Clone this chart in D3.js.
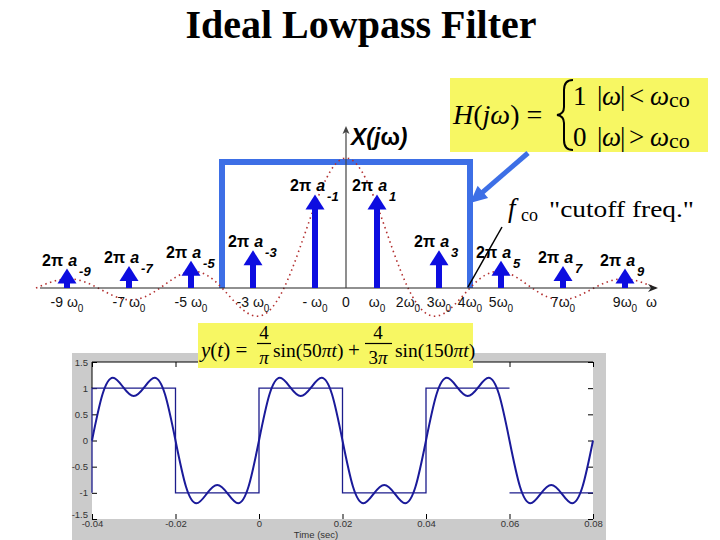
<!DOCTYPE html>
<html><head><meta charset="utf-8">
<script src="https://cdn.jsdelivr.net/npm/d3@7/dist/d3.min.js"></script>
<style>body{margin:0;background:#fff}svg{display:block}</style>
</head><body>
<svg id="c" width="720" height="540"></svg>
<script>
// ---------- data ----------
const title = "Ideal Lowpass Filter";
// spectrum (units of ω0)
const harmonics = [-9,-7,-5,-3,-1,1,3,5,7,9];
const arrowMag  = [0.15,0.17,0.21,0.29,0.72,0.72,0.29,0.21,0.17,0.15];
const harmonicSub = ["-9","-7","-5","-3","-1","1","3","5","7","9"];
const envW = [-10,-9.5,-9,-8.5,-8,-7.5,-7,-6.5,-6,-5.5,-5,-4.5,-4,-3.5,-3,-2.5,-2,-1.5,-1,-0.5,0,
              0.5,1,1.5,2,2.5,3,3.5,4,4.5,5,5.5,6,6.5,7,7.5,8,8.5,9,9.5,10];
const envV = [0,0.047,0.071,0.053,0,-0.06,-0.091,-0.069,0,0.082,0.127,0.1,0,-0.129,-0.212,-0.18,0,0.3,0.637,0.9,1,
              0.9,0.637,0.3,0,-0.18,-0.212,-0.129,0,0.1,0.127,0.082,0,-0.069,-0.091,-0.06,0,0.053,0.071,0.047,0];
const freqTickPos  = [-9,-7,-5,-3,-1,0,1,2,3,4,5,7,9,9.85];
const freqTickMain = ["-9 ω","-7 ω","-5 ω","-3 ω","- ω","0","ω","2ω","3ω","4ω","5ω","7ω","9ω","ω"];
const freqTickSub  = ["0","0","0","0","0","","0","0","0","0","0","0","0",""];
const filterEdges = [-4, 4];
const filterGain = 0.97;
// time plot
const timeStart = -0.04, timeStep = 0.0025;
const yVals = [0,0.879,1.2,1.014,0.849,1.014,1.2,0.879,0,-0.879,-1.2,-1.014,-0.849,-1.014,-1.2,-0.879,
               0,0.879,1.2,1.014,0.849,1.014,1.2,0.879,0,-0.879,-1.2,-1.014,-0.849,-1.014,-1.2,-0.879,
               0,0.879,1.2,1.014,0.849,1.014,1.2,0.879,0,-0.879,-1.2,-1.014,-0.849,-1.014,-1.2,-0.879,0];
const sqT = [-0.04,-0.04,-0.02,-0.02,0,0,0.02,0.02,0.04,0.04,0.06,null,0.06,0.08];
const sqV = [-1,1,1,-1,-1,1,1,-1,-1,1,1,null,-1,-1];
const xTicks = [-0.04,-0.02,0,0.02,0.04,0.06,0.08];
const xTickLabels = ["-0.04","-0.02","0","0.02","0.04","0.06","0.08"];
const yTicks = [-1.5,-1,-0.5,0,0.5,1,1.5];
const yTickLabels = ["-1.5","-1","-0.5","0","0.5","1","1.5"];
const xAxisTitle = "Time (sec)";

// ---------- drawing ----------
const svg = d3.select("#c");
const SANS = "'Liberation Sans', Arial, sans-serif";
const SERIF = "'Liberation Serif', 'Times New Roman', serif";
const BLUE = "#0d0de0", FBLUE = "#3d6fe6", YEL = "#f7f763";
svg.append("rect").attr("width",720).attr("height",540).attr("fill","#fff");

svg.append("text").attr("x",361).attr("y",38).attr("text-anchor","middle")
  .style("font-family",SERIF).style("font-weight","bold").style("font-size","40px").text(title);

const sx = d3.scaleLinear().domain([-10,10]).range([36,656]);
const sy = d3.scaleLinear().domain([0,1]).range([288,158]);

function arrow(g, x1,y1,x2,y2,w,hl,hw,color){
  const dx=x2-x1, dy=y2-y1, L=Math.hypot(dx,dy), ux=dx/L, uy=dy/L;
  const bx=x2-ux*hl, by=y2-uy*hl;
  g.append("line").attr("x1",x1).attr("y1",y1).attr("x2",bx+ux).attr("y2",by+uy)
    .attr("stroke",color).attr("stroke-width",w);
  g.append("path").attr("d",`M${x2},${y2}L${bx-uy*hw},${by+ux*hw}L${bx+uy*hw},${by-ux*hw}Z`).attr("fill",color);
}

// H(jw) box
const hb = svg.append("g");
hb.append("rect").attr("x",450).attr("y",78).attr("width",258).attr("height",74).attr("fill",YEL);
const ht = hb.append("text").attr("x",453).attr("y",124).style("font-family",SERIF).style("font-size","28px");
ht.append("tspan").style("font-style","italic").text("H");
ht.append("tspan").text("(");
ht.append("tspan").style("font-style","italic").text("jω");
ht.append("tspan").text(") =");
hb.append("path").attr("d","M573,80 Q564,80 564,90 L564,107 Q564,114 557,115 Q564,116 564,123 L564,140 Q564,150 573,150")
  .attr("fill","none").attr("stroke","#000").attr("stroke-width",2);
[[105,"1","<"],[146,"0",">"]].forEach(([yy,v,op])=>{
  const st = s=>hb.append("text").attr("y",yy).style("font-family",SERIF).style("font-size","27px").text(s);
  st(v).attr("x",573);
  st("|").attr("x",597);
  st("ω").attr("x",602).style("font-style","italic");
  st("|").attr("x",620);
  st(op).attr("x",629);
  st("ω").attr("x",650).style("font-style","italic");
  hb.append("text").attr("x",669).attr("y",yy+2).style("font-family",SERIF).style("font-size","22px").text("co");
});

// annotation arrow from box to filter edge
arrow(svg, 528,153, 470,203, 5, 17, 8, FBLUE);

// filter rectangle
svg.append("path")
  .attr("d",`M${sx(filterEdges[0])},${sy(0)}V${sy(filterGain)}H${sx(filterEdges[1])}V${sy(0)}`)
  .attr("fill","none").attr("stroke",FBLUE).attr("stroke-width",6);

// sinc envelope
svg.append("path").datum(envW.map((w,i)=>[w,envV[i]]))
  .attr("d", d3.line().x(d=>sx(d[0])).y(d=>sy(d[1])).curve(d3.curveNatural))
  .attr("fill","none").attr("stroke","#b33030").attr("stroke-width",1.6).attr("stroke-dasharray","1.5,3.5");

// axes
svg.append("line").attr("x1",40).attr("x2",652).attr("y1",sy(0)).attr("y2",sy(0)).attr("stroke","#222").attr("stroke-width",1.2);
svg.append("path").attr("d",`M658,${sy(0)}L648,${sy(0)-4}L651,${sy(0)}L648,${sy(0)+4}Z`).attr("fill","#222");
svg.append("line").attr("x1",sx(0)).attr("x2",sx(0)).attr("y1",sy(0)).attr("y2",131).attr("stroke","#444").attr("stroke-width",1.2);
svg.append("path").attr("d",`M${sx(0)},126L${sx(0)-3.5},134L${sx(0)},132L${sx(0)+3.5},134Z`).attr("fill","#444");

// X(jw) label
const xl = svg.append("text").attr("x",351).attr("y",145).style("font-family",SANS)
  .style("font-weight","bold").style("font-size","23px");
xl.append("tspan").style("font-style","italic").text("X(j");
xl.append("tspan").text("ω");
xl.append("tspan").style("font-style","italic").text(")");

// harmonic arrows
harmonics.forEach((h,i)=>{
  const x = sx(h), tip = sy(arrowMag[i]), hh = 15, hw = 9.5;
  svg.append("rect").attr("x",x-3).attr("y",tip+hh-1).attr("width",6).attr("height",sy(0)-(tip+hh-1)).attr("fill",BLUE);
  svg.append("path").attr("d",`M${x},${tip}L${x-hw},${tip+hh}L${x+hw},${tip+hh}Z`).attr("fill",BLUE);
  const t = svg.append("text").attr("x",x-25).attr("y",tip-3).style("font-family",SANS)
    .style("font-weight","bold").style("font-size","16px");
  t.append("tspan").text("2π");
  t.append("tspan").attr("dx",5).style("font-style","italic").text("a");
  t.append("tspan").attr("dx",2).attr("dy",10).style("font-style","italic").style("font-size","13px").text(harmonicSub[i]);
});

// frequency tick labels
freqTickPos.forEach((p,i)=>{
  const t = svg.append("text").attr("x",sx(p)).attr("y",307).attr("text-anchor","middle")
    .style("font-family",SANS).style("font-size","14px").attr("fill","#111");
  t.append("tspan").text(freqTickMain[i]);
  if (freqTickSub[i]) t.append("tspan").attr("dy",5).style("font-size","10px").text(freqTickSub[i]);
});

// cutoff annotation
svg.append("line").attr("x1",468).attr("y1",287).attr("x2",502).attr("y2",227).attr("stroke","#000").attr("stroke-width",1.5);
svg.append("text").attr("x",508).attr("y",217).style("font-family",SERIF).style("font-style","italic").style("font-size","27px").text("f");
svg.append("text").attr("x",521).attr("y",221).style("font-family",SERIF).style("font-size","18px").text("co");
svg.append("text").attr("x",549).attr("y",217).attr("textLength",145).attr("lengthAdjust","spacingAndGlyphs")
  .style("font-family",SERIF).style("font-size","24px").text("\"cutoff freq.\"");

// ---------- time plot ----------
svg.append("rect").attr("x",72).attr("y",353).attr("width",534).attr("height",187).attr("fill","#cbcbcb");
const tx = d3.scaleLinear().domain([-0.04,0.08]).range([92,593]);
const ty = d3.scaleLinear().domain([-1.5,1.5]).range([519,362]);
svg.append("rect").attr("x",tx(-0.04)).attr("y",ty(1.5)).attr("width",tx(0.08)-tx(-0.04)).attr("height",ty(-1.5)-ty(1.5)).attr("fill","#fff");

function styleAxis(g){
  g.select(".domain").remove();
  g.selectAll("line").attr("stroke","#000");
  g.selectAll("text").style("font-family",SANS).style("font-size","9.5px").attr("fill","#333");
}
svg.append("g").attr("transform",`translate(0,${ty(-1.5)})`)
  .call(d3.axisBottom(tx).tickValues(xTicks).tickFormat((d,i)=>xTickLabels[i]).tickSizeInner(-5).tickSizeOuter(0).tickPadding(1)).call(styleAxis);
svg.append("g").attr("transform",`translate(0,${ty(1.5)})`)
  .call(d3.axisTop(tx).tickValues(xTicks).tickFormat("").tickSizeInner(-5).tickSizeOuter(0)).call(styleAxis);
svg.append("g").attr("transform",`translate(${tx(-0.04)},0)`)
  .call(d3.axisLeft(ty).tickValues(yTicks).tickFormat((d,i)=>yTickLabels[i]).tickSizeInner(-5).tickSizeOuter(0).tickPadding(4)).call(styleAxis)
  .selectAll(".tick text").filter(d=>d===-1.5).attr("dy","-0.2em");
svg.append("g").attr("transform",`translate(${tx(0.08)},0)`)
  .call(d3.axisRight(ty).tickValues(yTicks).tickFormat("").tickSizeInner(-5).tickSizeOuter(0)).call(styleAxis);

// square wave
svg.append("path").datum(sqT.map((t,i)=>[t,sqV[i]]))
  .attr("d", d3.line().defined(d=>d[0]!==null).x(d=>tx(d[0])).y(d=>ty(d[1])))
  .attr("fill","none").attr("stroke","#1c1c8c").attr("stroke-width",1.3);
// synthesized output
svg.append("path").datum(yVals.map((v,i)=>[timeStart+i*timeStep,v]))
  .attr("d", d3.line().x(d=>tx(d[0])).y(d=>ty(d[1])).curve(d3.curveNatural))
  .attr("fill","none").attr("stroke","#1a1a9a").attr("stroke-width",2);

// borders top/left
svg.append("line").attr("x1",tx(-0.04)).attr("x2",tx(0.08)).attr("y1",ty(1.5)).attr("y2",ty(1.5)).attr("stroke","#000");
svg.append("line").attr("x1",tx(-0.04)).attr("x2",tx(-0.04)).attr("y1",ty(1.5)).attr("y2",ty(1)).attr("stroke","#000");

svg.append("text").attr("x",316).attr("y",538).attr("text-anchor","middle")
  .style("font-family",SANS).style("font-size","9.5px").attr("fill","#333").text(xAxisTitle);

// y(t) formula box
const yb = svg.append("g").style("font-family",SERIF);
yb.append("rect").attr("x",198).attr("y",323).attr("width",275).attr("height",45).attr("fill",YEL);
const yt = yb.append("text").attr("x",201).attr("y",357).style("font-size","21px");
yt.append("tspan").style("font-style","italic").text("y");
yt.append("tspan").text("(");
yt.append("tspan").style("font-style","italic").text("t");
yt.append("tspan").text(") =");
function frac(cx, x1, x2, num, den){
  yb.append("text").attr("x",cx).attr("y",339).attr("text-anchor","middle").style("font-size","19px").text(num);
  yb.append("line").attr("x1",x1).attr("x2",x2).attr("y1",343.5).attr("y2",343.5).attr("stroke","#000").attr("stroke-width",1.2);
  const d = yb.append("text").attr("x",cx).attr("y",364).attr("text-anchor","middle").style("font-size","19px");
  if (den[0]) d.append("tspan").text(den[0]);
  d.append("tspan").style("font-style","italic").text(den[1]);
}
frac(264, 257, 271, "4", ["","π"]);
frac(378, 365, 392, "4", ["3","π"]);
function sinTerm(x, n){
  const t = yb.append("text").attr("x",x).attr("y",357).style("font-size","19.5px");
  t.append("tspan").text("sin(" + n);
  t.append("tspan").style("font-style","italic").text("πt");
  t.append("tspan").text(")");
}
sinTerm(273, "50");
yb.append("text").attr("x",348).attr("y",357).style("font-size","21px").text("+");
sinTerm(395, "150");
</script>
</body></html>
